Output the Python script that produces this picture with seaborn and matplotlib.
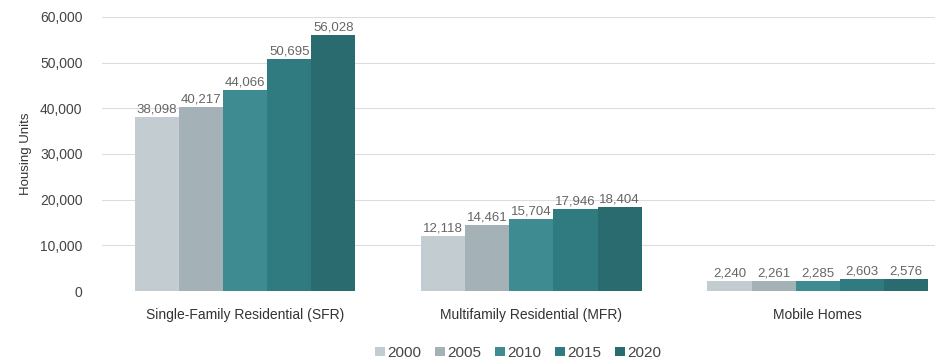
import pandas as pd
import matplotlib.pyplot as plt
import seaborn as sns

categories = ["Single-Family Residential (SFR)", "Multifamily Residential (MFR)", "Mobile Homes"]
years = ["2000", "2005", "2010", "2015", "2020"]
sfr = [38098, 40217, 44066, 50695, 56028]
mfr = [12118, 14461, 15704, 17946, 18404]
mobile = [2240, 2261, 2285, 2603, 2576]
colors = ["#c3ccd1", "#a4b2b7", "#3e8b92", "#2f7b80", "#2a6b6f"]

rows = []
for cat, vals in zip(categories, [sfr, mfr, mobile]):
    for yr, v in zip(years, vals):
        rows.append({"Type": cat, "Year": yr, "Units": v})
df = pd.DataFrame(rows)

sns.set_style("white")
plt.rcParams["font.family"] = ["Liberation Sans", "DejaVu Sans"]

fig = plt.figure(figsize=(9.51, 3.58), dpi=100)
ax = fig.add_axes([102 / 951, 0.187, 833 / 951, 0.766])

sns.barplot(data=df, x="Type", y="Units", hue="Year", palette=colors,
            width=0.77, gap=0, saturation=1, linewidth=0, ax=ax, legend=True, zorder=3)

for c in ax.containers:
    ax.bar_label(c, labels=[f"{v:,.0f}" for v in c.datavalues],
                 fontsize=9.5, color="#666666", padding=1)

ax.set_xlim(-0.5, 2.41)
ax.set_ylim(0, 60000)
ax.set_yticks(range(0, 60001, 10000))
ax.set_yticklabels([f"{t:,}" for t in range(0, 60001, 10000)])
ax.yaxis.grid(True, color="#dcdcdc", linewidth=0.8, zorder=0)
ax.set_axisbelow(True)
for s in ax.spines.values():
    s.set_visible(False)
ax.tick_params(axis="y", length=0, labelsize=10, colors="#444444", pad=14)
ax.tick_params(axis="x", length=0, labelsize=10, colors="#333333", pad=12)
ax.set_ylabel("Housing Units", fontsize=9.5, color="#333333", labelpad=6)
ax.set_xlabel("")

ax.legend(loc="upper center", bbox_to_anchor=(0.5, -0.15), ncol=5, frameon=False,
          fontsize=11, handlelength=0.6, handleheight=0.6, handletextpad=0.2,
          columnspacing=0.9, labelcolor="#444444")

fig.savefig("out.png", dpi=100)
